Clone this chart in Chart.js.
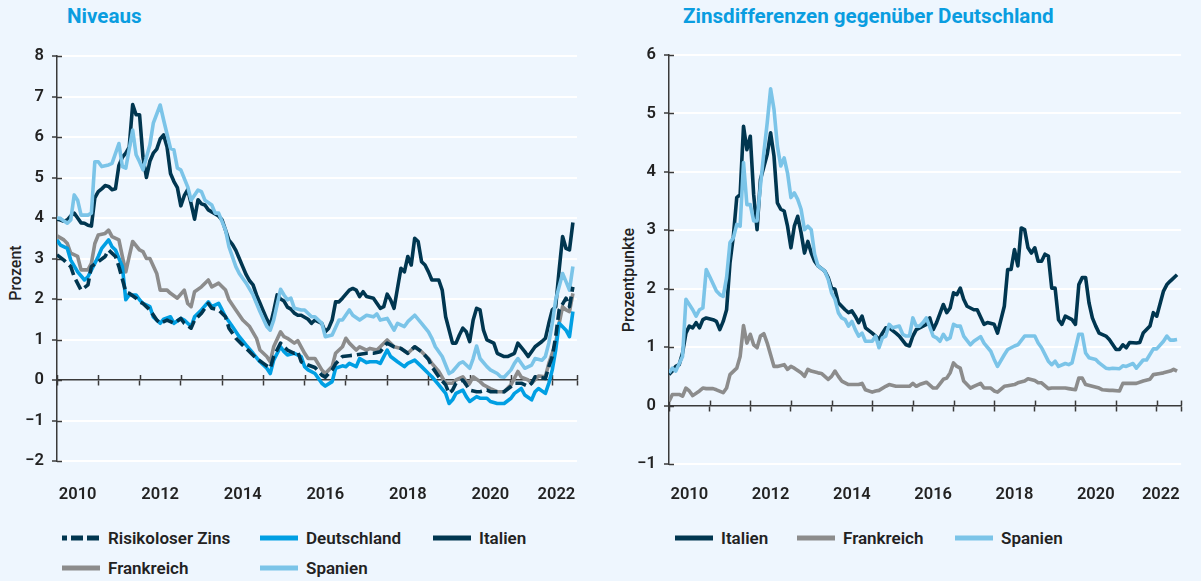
<!DOCTYPE html>
<html lang="de">
<head>
<meta charset="utf-8">
<script src="https://cdn.jsdelivr.net/npm/chart.js@4.4.1/dist/chart.umd.min.js"></script>
<style>
  html, body { margin: 0; padding: 0; background: #eef6fe; }
  body { width: 1201px; height: 581px; position: relative; overflow: hidden; font-family: Roboto, "Noto Sans", sans-serif; color: #222; }
  canvas { position: absolute; top: 0; }
  .title { position: absolute; top: 4px; font-weight: 700; font-size: 20.6px; color: #0a9de0; white-space: nowrap; }
  .ytitle { position: absolute; font-weight: 500; font-size: 16px; white-space: nowrap; transform: translate(-50%, -50%) rotate(-90deg); }
  .leg { position: absolute; display: flex; align-items: center; font-weight: 600; font-size: 17px; white-space: nowrap; transform: translateY(-50%); }
  .leg svg { margin-right: 8px; display: block; }
</style>
</head>
<body>
<div class="title" style="left:67px">Niveaus</div>
<div class="title" style="left:683px">Zinsdifferenzen gegenüber Deutschland</div>
<div class="ytitle" style="left:15px; top:273px">Prozent</div>
<div class="ytitle" style="left:628px; top:280px">Prozentpunkte</div>
<canvas id="left" width="600" height="520" style="left:0"></canvas>
<canvas id="right" width="601" height="520" style="left:600px"></canvas>
<div id="legends"></div>
<script>
// Month index 0 = January 2010; each pair is [month index, value]
const START_YEAR = 2010;
const X_MAX = 2022.6;
const yearTicks = [2010, 2011, 2012, 2013, 2014, 2015, 2016, 2017, 2018, 2019, 2020, 2021, 2022, 2022.6];
const yearLabelPositions = [2010.5, 2012.5, 2014.5, 2016.5, 2018.5, 2020.5, 2022.1];
const yearLabels = ['2010', '2012', '2014', '2016', '2018', '2020', '2022'];

// ---- Niveaus (Prozent) ----
const risikoloserZins = [[0,3.09],[2,2.96],[4,2.80],[5,2.55],[7,2.22],[9,2.35],[10,2.80],[12,2.92],[14,3.05],[15,3.21],[17,3.05],[18,2.80],[20,2.18],[21,2.14],[23,2.02],[24,1.93],[25,1.89],[27,1.73],[29,1.48],[30,1.40],[32,1.48],[34,1.40],[36,1.52],[37,1.40],[39,1.28],[40,1.48],[42,1.65],[44,1.89],[45,1.77],[47,1.73],[49,1.56],[50,1.28],[52,1.03],[54,0.86],[56,0.70],[58,0.53],[60,0.41],[62,0.29],[63,0.58],[65,0.91],[66,0.82],[67,0.74],[69,0.66],[70,0.70],[71,0.45],[73,0.37],[75,0.31],[77,0.12],[78,0.07],[80,0.25],[81,0.40],[83,0.58],[85,0.60],[87,0.62],[90,0.66],[92,0.66],[94,0.70],[96,0.91],[98,0.82],[100,0.78],[102,0.66],[104,0.82],[106,0.70],[108,0.51],[109,0.33],[111,0.08],[113,-0.12],[114,-0.33],[115,-0.25],[116,-0.08],[118,0.0],[119,-0.12],[120,-0.25],[122,-0.29],[123,-0.29],[125,-0.25],[126,-0.29],[128,-0.29],[130,-0.29],[132,-0.16],[133,-0.08],[135,-0.08],[137,-0.16],[138,-0.08],[139,0.08],[142,0.04],[143,0.33],[144,0.58],[145,1.07],[146,1.73],[148,2.02],[149,1.81],[150,2.30]];
const deutschland = [[0,3.46],[1,3.33],[3,3.25],[4,2.96],[6,2.67],[8,2.47],[9,2.55],[11,2.88],[12,3.05],[13,3.25],[15,3.46],[16,3.29],[17,3.21],[19,2.80],[20,1.98],[21,2.10],[23,2.10],[24,1.98],[25,1.89],[27,1.81],[28,1.56],[30,1.40],[31,1.50],[33,1.56],[34,1.40],[36,1.52],[37,1.48],[39,1.32],[40,1.56],[42,1.73],[44,1.93],[45,1.81],[47,1.89],[48,1.73],[49,1.56],[51,1.32],[53,1.07],[55,0.86],[57,0.66],[59,0.45],[61,0.29],[62,0.16],[63,0.49],[65,0.82],[66,0.70],[67,0.62],[69,0.66],[71,0.58],[72,0.33],[73,0.25],[75,0.16],[77,-0.08],[78,-0.15],[80,-0.04],[81,0.29],[83,0.35],[84,0.33],[85,0.41],[87,0.33],[88,0.53],[90,0.43],[91,0.45],[93,0.45],[94,0.41],[96,0.74],[97,0.58],[99,0.45],[101,0.33],[102,0.41],[104,0.49],[106,0.33],[108,0.16],[109,0.08],[111,-0.12],[113,-0.33],[114,-0.58],[115,-0.49],[116,-0.33],[118,-0.25],[119,-0.41],[120,-0.53],[122,-0.41],[123,-0.45],[125,-0.45],[126,-0.53],[128,-0.58],[130,-0.58],[132,-0.45],[133,-0.33],[135,-0.21],[136,-0.37],[138,-0.49],[139,-0.29],[140,-0.21],[142,-0.33],[143,-0.08],[144,0.25],[145,0.74],[146,1.40],[148,1.23],[149,1.07],[150,1.69]];
const italien = [[0,3.97],[1,3.95],[2,3.92],[3,3.95],[4,4.05],[5,4.12],[6,4.0],[7,3.88],[8,3.87],[9,3.82],[10,3.8],[11,4.5],[12,4.65],[13,4.72],[14,4.8],[15,4.78],[16,4.7],[17,4.72],[18,5.3],[19,5.5],[20,5.6],[21,5.75],[22,6.8],[23,6.55],[24,6.55],[25,5.5],[26,5.0],[27,5.4],[28,5.6],[29,5.7],[30,5.95],[31,6.05],[32,5.75],[33,5.1],[34,4.9],[35,4.75],[36,4.3],[37,4.55],[38,4.7],[39,4.35],[40,3.97],[41,4.45],[42,4.35],[43,4.32],[44,4.2],[45,4.15],[46,4.1],[47,4.05],[48,3.95],[49,3.7],[50,3.45],[51,3.35],[52,3.2],[53,3.0],[54,2.8],[55,2.6],[56,2.45],[57,2.35],[58,2.1],[59,1.9],[60,1.7],[61,1.5],[62,1.35],[63,1.7],[64,2.1],[65,2.0],[66,1.95],[67,1.8],[68,1.75],[69,1.65],[70,1.6],[71,1.6],[72,1.55],[73,1.5],[74,1.4],[75,1.48],[77,1.40],[78,1.19],[79,1.28],[80,1.48],[81,1.93],[82,1.93],[83,2.02],[85,2.22],[86,2.26],[87,2.22],[88,2.06],[89,2.18],[90,2.06],[92,2.02],[94,1.77],[95,1.81],[96,2.12],[97,1.98],[98,1.77],[100,2.76],[101,2.67],[102,3.05],[103,2.84],[104,3.5],[105,3.42],[106,2.92],[107,2.84],[108,2.67],[109,2.47],[111,2.47],[112,2.22],[113,1.56],[115,0.91],[116,0.91],[117,1.11],[118,1.28],[119,1.19],[120,0.95],[121,1.48],[122,1.77],[123,1.73],[124,1.23],[125,0.99],[127,0.91],[128,0.66],[130,0.58],[131,0.58],[133,0.66],[134,0.91],[136,0.70],[137,0.58],[139,0.82],[141,0.95],[142,1.03],[143,1.40],[144,1.73],[145,1.81],[146,2.72],[147,3.54],[148,3.25],[149,3.21],[150,3.89]];
const frankreich = [[0,3.56],[2,3.46],[3,3.37],[4,3.13],[6,3.05],[7,2.72],[9,2.72],[10,2.88],[11,3.37],[12,3.58],[14,3.62],[15,3.70],[16,3.54],[18,3.46],[19,3.05],[20,2.67],[21,3.05],[22,3.42],[24,3.21],[25,3.17],[26,3.0],[27,3.0],[29,2.63],[30,2.22],[32,2.22],[33,2.14],[35,2.02],[37,2.22],[38,1.89],[39,1.81],[40,2.18],[42,2.30],[44,2.47],[45,2.30],[47,2.39],[49,2.22],[50,1.98],[52,1.73],[54,1.48],[56,1.32],[58,1.03],[59,0.74],[61,0.58],[62,0.45],[63,0.82],[65,1.19],[66,1.07],[67,1.03],[69,0.91],[70,0.97],[72,0.66],[73,0.53],[75,0.53],[77,0.25],[78,0.16],[80,0.33],[81,0.66],[83,0.82],[84,1.03],[85,0.91],[87,0.74],[88,0.82],[90,0.74],[91,0.78],[93,0.74],[94,0.82],[96,0.99],[98,0.82],[100,0.78],[102,0.66],[104,0.82],[106,0.70],[108,0.53],[109,0.41],[111,0.21],[113,-0.08],[115,-0.08],[116,0.0],[118,0.08],[119,-0.04],[120,-0.08],[121,0.08],[123,-0.04],[124,-0.12],[126,-0.21],[128,-0.29],[130,-0.29],[132,-0.12],[134,0.21],[135,0.07],[137,0.0],[138,-0.08],[140,0.10],[142,0.08],[143,0.41],[145,0.91],[146,1.40],[147,1.81],[148,1.73],[149,1.69],[150,2.14]];
const spanien = [[0,4.0],[1,3.99],[3,3.87],[4,3.95],[5,4.57],[6,4.44],[7,4.07],[9,4.07],[10,4.12],[11,5.39],[12,5.39],[13,5.27],[15,5.31],[16,5.35],[18,5.84],[19,5.27],[20,5.23],[22,6.17],[23,5.56],[24,5.39],[25,5.19],[27,5.8],[28,6.34],[30,6.79],[31,6.42],[33,5.72],[34,5.68],[35,5.23],[36,5.19],[38,4.77],[39,4.44],[41,4.69],[42,4.65],[43,4.44],[45,4.32],[46,4.12],[47,4.12],[49,3.70],[50,3.29],[52,2.80],[53,2.63],[55,2.39],[57,2.10],[59,1.69],[61,1.32],[62,1.23],[63,1.48],[65,2.24],[66,2.10],[67,1.98],[68,2.02],[69,1.77],[71,1.73],[72,1.73],[74,1.56],[75,1.56],[77,1.40],[78,1.07],[80,1.11],[82,1.48],[83,1.48],[85,1.73],[86,1.60],[88,1.48],[90,1.60],[92,1.56],[93,1.63],[94,1.48],[96,1.52],[98,1.23],[99,1.40],[101,1.32],[102,1.44],[104,1.60],[106,1.40],[108,1.19],[109,1.03],[110,0.82],[112,0.58],[114,0.16],[115,0.21],[117,0.41],[118,0.45],[120,0.29],[121,0.53],[122,0.84],[123,0.53],[125,0.33],[126,0.25],[128,0.16],[129,0.08],[130,0.07],[132,0.25],[133,0.41],[134,0.53],[136,0.29],[138,0.37],[139,0.53],[141,0.49],[142,0.58],[143,0.91],[144,1.40],[145,1.98],[147,2.63],[148,2.43],[149,2.22],[150,2.80]];

// ---- Zinsdifferenzen gegenüber Deutschland (Prozentpunkte) ----
const italienSpread = [[0,0.53],[1,0.59],[2,0.67],[3,0.70],[4,0.90],[5,1.24],[6,1.36],[7,1.33],[8,1.42],[9,1.33],[10,1.47],[11,1.50],[13,1.47],[14,1.44],[15,1.30],[16,1.44],[17,1.64],[18,2.44],[19,2.90],[20,3.56],[21,3.61],[22,4.78],[23,4.38],[24,4.61],[25,3.61],[26,3.01],[27,3.87],[29,4.30],[30,4.67],[31,4.27],[32,3.47],[33,3.36],[34,3.33],[35,3.07],[36,2.70],[37,3.07],[38,3.24],[39,2.96],[40,2.61],[41,2.81],[42,2.61],[43,2.47],[44,2.39],[46,2.30],[47,2.19],[48,2.01],[49,1.99],[50,1.76],[51,1.70],[52,1.64],[53,1.59],[54,1.62],[55,1.53],[56,1.42],[57,1.53],[58,1.33],[60,1.24],[61,1.19],[62,1.13],[63,1.24],[64,1.33],[65,1.33],[67,1.24],[68,1.19],[70,1.04],[71,1.02],[72,1.19],[73,1.30],[74,1.33],[76,1.39],[77,1.50],[78,1.30],[79,1.42],[81,1.73],[82,1.59],[83,1.67],[84,1.93],[85,1.90],[86,2.01],[87,1.82],[88,1.70],[90,1.64],[91,1.64],[93,1.39],[94,1.42],[96,1.39],[97,1.24],[99,1.70],[100,2.33],[101,2.33],[102,2.67],[103,2.39],[104,3.04],[105,3.01],[106,2.70],[107,2.61],[108,2.70],[109,2.47],[110,2.47],[111,2.59],[112,2.56],[113,2.01],[114,2.01],[115,1.47],[116,1.39],[117,1.53],[119,1.47],[120,1.39],[121,2.07],[122,2.19],[123,2.19],[124,1.76],[125,1.50],[126,1.36],[127,1.24],[129,1.19],[130,1.13],[132,0.96],[133,0.96],[134,1.04],[135,0.99],[136,1.08],[138,1.07],[139,1.08],[140,1.24],[142,1.36],[143,1.59],[144,1.53],[146,1.96],[147,2.07],[148,2.13],[150,2.24]];
const frankreichSpread = [[0,0.07],[1,0.19],[3,0.19],[4,0.16],[5,0.30],[6,0.25],[7,0.17],[9,0.25],[10,0.30],[11,0.29],[13,0.29],[14,0.27],[16,0.22],[17,0.30],[18,0.53],[20,0.64],[21,0.84],[22,1.37],[23,1.07],[24,1.22],[25,1.04],[26,0.99],[27,1.19],[28,1.23],[29,1.07],[30,0.87],[31,0.67],[32,0.67],[34,0.70],[35,0.62],[36,0.67],[37,0.64],[39,0.56],[40,0.50],[41,0.62],[42,0.59],[44,0.56],[45,0.55],[47,0.45],[48,0.50],[49,0.59],[50,0.50],[51,0.42],[53,0.36],[54,0.36],[56,0.36],[57,0.38],[58,0.27],[60,0.23],[61,0.25],[62,0.26],[64,0.33],[65,0.36],[67,0.33],[68,0.33],[70,0.33],[71,0.33],[72,0.38],[73,0.33],[74,0.36],[76,0.40],[78,0.30],[79,0.30],[81,0.45],[82,0.47],[83,0.56],[84,0.73],[85,0.67],[86,0.64],[87,0.42],[89,0.30],[90,0.33],[92,0.38],[93,0.30],[95,0.30],[96,0.25],[97,0.23],[99,0.33],[100,0.34],[102,0.36],[103,0.39],[105,0.42],[106,0.46],[108,0.43],[109,0.39],[110,0.39],[112,0.29],[113,0.30],[115,0.30],[117,0.30],[118,0.29],[120,0.27],[121,0.47],[122,0.47],[123,0.36],[125,0.33],[127,0.30],[128,0.27],[130,0.26],[131,0.26],[133,0.25],[134,0.38],[136,0.38],[138,0.38],[140,0.42],[142,0.45],[143,0.53],[145,0.55],[146,0.56],[148,0.59],[149,0.62],[150,0.59]];
const spanienSpread = [[0,0.56],[1,0.64],[2,0.59],[4,0.84],[5,1.82],[7,1.64],[8,1.53],[9,1.64],[10,1.67],[11,2.33],[12,2.21],[14,1.96],[15,1.90],[16,1.87],[17,2.19],[18,2.79],[19,2.87],[20,3.10],[21,3.07],[22,4.16],[23,3.44],[24,3.44],[25,3.16],[26,3.16],[27,3.76],[28,4.33],[29,4.84],[30,5.42],[31,5.07],[32,4.44],[33,4.10],[34,4.24],[35,3.98],[36,3.56],[37,3.64],[38,3.53],[39,3.36],[40,3.01],[41,3.07],[42,3.01],[43,2.59],[44,2.39],[46,2.30],[47,2.16],[48,1.93],[49,1.82],[50,1.59],[51,1.50],[52,1.47],[53,1.36],[54,1.44],[55,1.30],[56,1.19],[57,1.24],[58,1.10],[60,1.10],[61,1.19],[62,0.99],[63,1.16],[64,1.19],[65,1.39],[66,1.33],[68,1.36],[69,1.22],[70,1.19],[71,1.19],[72,1.50],[73,1.36],[74,1.36],[75,1.42],[76,1.50],[78,1.19],[79,1.16],[80,1.10],[81,1.22],[82,1.13],[83,1.16],[84,1.39],[85,1.36],[86,1.36],[87,1.19],[89,1.04],[90,1.10],[92,1.18],[93,1.07],[95,0.93],[96,0.79],[97,0.67],[99,0.87],[100,0.96],[102,1.02],[103,1.04],[105,1.19],[106,1.19],[108,1.19],[109,1.07],[110,0.99],[112,0.76],[113,0.70],[114,0.76],[115,0.67],[117,0.72],[118,0.70],[119,0.73],[121,1.22],[122,1.22],[123,0.90],[124,0.82],[126,0.79],[127,0.73],[129,0.64],[130,0.63],[131,0.64],[133,0.63],[134,0.68],[135,0.67],[137,0.72],[138,0.64],[140,0.78],[141,0.78],[143,0.97],[144,0.97],[146,1.10],[147,1.19],[148,1.12],[149,1.12],[150,1.13]];

const COLORS = {
  risikolos: '#003650',
  deutschland: '#009fe3',
  italien: '#003650',
  frankreich: '#8c8c8c',
  spanien: '#7bc4e8'
};
const AXIS = '#3a3a3a';
const TEXT = '#222222';
const FONT = { family: 'Roboto, "Noto Sans", sans-serif', size: 16.5, weight: '600' };

function toPoints(pairs) {
  return pairs.map(([m, v]) => ({ x: START_YEAR + m / 12, y: v }));
}
function ds(label, pairs, color, dash) {
  return {
    label, data: toPoints(pairs), borderColor: color, backgroundColor: color,
    borderWidth: 3.6, borderDash: dash || [], pointRadius: 0, pointHoverRadius: 0,
    tension: 0, spanGaps: true, borderJoinStyle: 'round', fill: false
  };
}
function minus(v) { return v < 0 ? '\u2212' + Math.abs(v) : String(v); }

const innerTicks = {
  id: 'innerTicks',
  beforeDatasetsDraw(chart) {
    const { ctx, chartArea, scales } = chart;
    const y = scales.y, x = scales.x;
    ctx.save();
    ctx.strokeStyle = AXIS; ctx.lineWidth = 1.5;
    y.ticks.forEach(t => {
      const py = Math.round(y.getPixelForValue(t.value)) + 0.5;
      ctx.beginPath(); ctx.moveTo(chartArea.left, py); ctx.lineTo(chartArea.left + 5, py); ctx.stroke();
    });
    const y0 = y.getPixelForValue(0);
    x.ticks.forEach(t => {
      const px = Math.round(x.getPixelForValue(t.value)) + 0.5;
      ctx.beginPath(); ctx.moveTo(px, y0); ctx.lineTo(px, y0 - 5); ctx.stroke();
    });
    ctx.restore();
  }
};

function makeChart(id, datasets, yMin, yMax, pad, yWidth, xHeight, labelPad) {
  return new Chart(document.getElementById(id), {
    type: 'line',
    data: { datasets },
    plugins: [innerTicks],
    options: {
      responsive: false, animation: false, devicePixelRatio: 1,
      layout: { padding: pad },
      plugins: { legend: { display: false }, tooltip: { enabled: false }, title: { display: false } },
      scales: {
        y: {
          type: 'linear', min: yMin, max: yMax,
          ticks: { stepSize: 1, color: TEXT, font: FONT, padding: 8, callback: v => minus(v) },
          grid: {
            color: c => (c.tick && c.tick.value === 0) ? 'rgba(0,0,0,0)' : '#ffffff',
            lineWidth: 2, drawTicks: true, tickLength: 5, tickColor: AXIS, tickWidth: 1.5
          },
          border: { display: true, color: AXIS, width: 1.5 },
          afterFit: s => { s.width = yWidth; }
        },
        x: {
          type: 'linear', min: START_YEAR, max: X_MAX, position: { y: 0 },
          ticks: { display: false },
          grid: { drawOnChartArea: false, drawTicks: true, tickLength: 5, tickColor: AXIS, tickWidth: 1.5 },
          border: { display: true, color: AXIS, width: 1.5 },
          afterBuildTicks: s => { s.ticks = yearTicks.map(v => ({ value: v })); }
        },
        x2: {
          type: 'linear', axis: 'x', min: START_YEAR, max: X_MAX, position: 'bottom',
          ticks: {
            color: TEXT, font: FONT, padding: labelPad, autoSkip: false, maxRotation: 0, minRotation: 0,
            callback: v => { const i = yearLabelPositions.indexOf(v); return i >= 0 ? yearLabels[i] : ''; }
          },
          grid: { display: false, drawTicks: false },
          border: { display: false },
          afterBuildTicks: s => { s.ticks = yearLabelPositions.map(v => ({ value: v })); },
          afterFit: s => { s.height = xHeight; }
        }
      }
    }
  });
}

// Datasets listed top-most first (Chart.js draws index 0 last)
makeChart('left', [
  ds('Risikoloser Zins', risikoloserZins, COLORS.risikolos, [11, 5]),
  ds('Deutschland', deutschland, COLORS.deutschland),
  ds('Spanien', spanien, COLORS.spanien),
  ds('Italien', italien, COLORS.italien),
  ds('Frankreich', frankreich, COLORS.frankreich)
], -2, 8, { top: 56, right: 19, left: 0, bottom: 0 }, 57, 59, 24);

makeChart('right', [
  ds('Spanien', spanienSpread, COLORS.spanien),
  ds('Italien', italienSpread, COLORS.italien),
  ds('Frankreich', frankreichSpread, COLORS.frankreich)
], -1, 6, { top: 55, right: 9, left: 0, bottom: 0 }, 69, 56, 21);

// HTML legends
const legendItems = [
  { label: 'Risikoloser Zins', color: COLORS.risikolos, dash: true, left: 62, top: 538 },
  { label: 'Deutschland', color: COLORS.deutschland, left: 260, top: 538 },
  { label: 'Italien', color: COLORS.italien, left: 433, top: 538 },
  { label: 'Frankreich', color: COLORS.frankreich, left: 62, top: 568 },
  { label: 'Spanien', color: COLORS.spanien, left: 260, top: 568 },
  { label: 'Italien', color: COLORS.italien, left: 675, top: 538 },
  { label: 'Frankreich', color: COLORS.frankreich, left: 797, top: 538 },
  { label: 'Spanien', color: COLORS.spanien, left: 955, top: 538 }
];
const host = document.getElementById('legends');
legendItems.forEach(it => {
  const d = document.createElement('div');
  d.className = 'leg';
  d.style.left = it.left + 'px';
  d.style.top = it.top + 'px';
  const dash = it.dash ? ' stroke-dasharray="5 4 12 4 12"' : '';
  d.innerHTML = '<svg width="38" height="6"><line x1="0" y1="3" x2="38" y2="3" stroke="' + it.color + '" stroke-width="5"' + dash + '/></svg><span>' + it.label + '</span>';
  host.appendChild(d);
});
</script>
</body>
</html>
